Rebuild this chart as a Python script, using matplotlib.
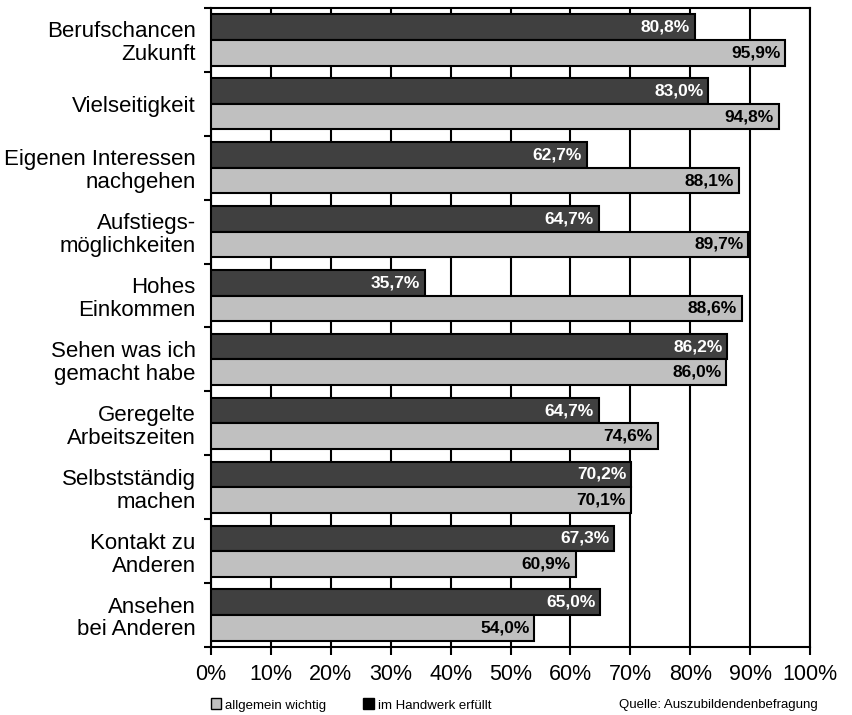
import numpy as np
from matplotlib import pyplot as plt
from matplotlib.patches import Patch

plt.rcParams['font.family'] = ['Liberation Sans', 'DejaVu Sans']

categories = ["Berufschancen\nZukunft", "Vielseitigkeit", "Eigenen Interessen\nnachgehen",
              "Aufstiegs-\nmöglichkeiten", "Hohes\nEinkommen", "Sehen was ich\ngemacht habe",
              "Geregelte\nArbeitszeiten", "Selbstständig\nmachen", "Kontakt zu\nAnderen",
              "Ansehen\nbei Anderen"]
handwerk = [80.8, 83.0, 62.7, 64.7, 35.7, 86.2, 64.7, 70.2, 67.3, 65.0]
allgemein = [95.9, 94.8, 88.1, 89.7, 88.6, 86.0, 74.6, 70.1, 60.9, 54.0]

dark = "#404040"
light = "#c0c0c0"

fig = plt.figure(figsize=(8.52, 7.15), dpi=100)
ax = fig.add_axes([211/852, 1 - 647/715, 599/852, 639/715])

y = np.arange(len(categories))
h = 0.4
b1 = ax.barh(y - h/2, handwerk, height=h, color=dark, edgecolor="black", linewidth=1.5, zorder=3)
b2 = ax.barh(y + h/2, allgemein, height=h, color=light, edgecolor="black", linewidth=1.5, zorder=3)

for i in range(len(categories)):
    ax.annotate(f"{handwerk[i]:.1f}%".replace(".", ","), (handwerk[i], y[i] - h/2),
                xytext=(-3.5, 0), textcoords="offset points", ha="right", va="center",
                color="white", fontsize=12.5, fontweight="bold", zorder=4)
    ax.annotate(f"{allgemein[i]:.1f}%".replace(".", ","), (allgemein[i], y[i] + h/2),
                xytext=(-3.5, 0), textcoords="offset points", ha="right", va="center",
                color="black", fontsize=12.5, fontweight="bold", zorder=4)

ax.set_xlim(0, 100)
ax.set_ylim(len(categories) - 0.5, -0.5)
ax.set_xticks(np.arange(0, 101, 10))
ax.set_xticklabels([f"{t}%" for t in range(0, 101, 10)], fontsize=15.5)
ax.tick_params(axis="x", length=6, width=1.5, pad=6)

# boundaries as ticks, category names as minor ticks
ax.set_yticks(np.arange(-0.5, len(categories), 1))
ax.set_yticklabels([])
ax.tick_params(axis="y", which="major", length=5, width=1.5)
ax.set_yticks(y, minor=True)
ax.set_yticklabels(categories, minor=True, fontsize=16, ha="right", linespacing=1.12)
ax.tick_params(axis="y", which="minor", length=0, pad=11)

ax.grid(axis="x", color="black", linewidth=1.5, zorder=0)
ax.set_axisbelow(True)
for s in ax.spines.values():
    s.set_linewidth(1.5)

handles = [Patch(facecolor=light, edgecolor="black", linewidth=1),
           Patch(facecolor="black", edgecolor="black", linewidth=1)]
fig.legend(handles, ["allgemein wichtig", "im Handwerk erfüllt"], ncol=2, frameon=False,
           loc="center left", bbox_to_anchor=(199/852, 1 - 705/715), fontsize=9.5,
           handlelength=0.8, handleheight=0.9, handletextpad=0.3, columnspacing=2.8)
fig.text(818/852, 1 - 705/715, "Quelle: Auszubildendenbefragung", ha="right", va="center", fontsize=9.5)

plt.savefig("out.png", dpi=100)
